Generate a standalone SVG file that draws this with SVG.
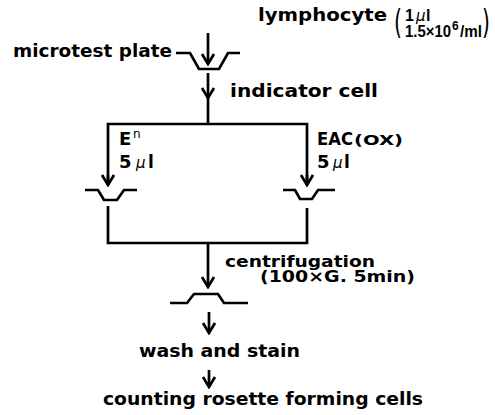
<svg xmlns="http://www.w3.org/2000/svg" width="495" height="415" viewBox="0 0 495 415">
<style>
.t{font-family:"DejaVu Sans","Liberation Sans",sans-serif;font-weight:bold;font-size:17px;fill:#000}
.s{font-family:"DejaVu Sans","Liberation Sans",sans-serif;font-weight:bold;font-size:14px;fill:#000}
.n{font-family:"Liberation Sans","DejaVu Sans",sans-serif;font-weight:bold;font-size:16px;fill:#000}
.mu{font-family:"DejaVu Sans","Liberation Sans",sans-serif;font-style:italic;font-weight:normal;font-size:15px;fill:#000}
.p{font-family:"DejaVu Sans","Liberation Sans",sans-serif;font-weight:normal;font-size:34px;fill:#000}
.ln{fill:none;stroke:#000;stroke-width:2.7;stroke-linejoin:miter}
</style>
<defs>
<marker id="ah" markerUnits="userSpaceOnUse" markerWidth="14" markerHeight="16" viewBox="-12 -8 14 16" refX="0" refY="0" orient="auto">
<path d="M-10,-6 L0,0 L-10,6" fill="none" stroke="#000" stroke-width="2.7"/>
</marker>
</defs>
<rect width="495" height="415" fill="#fff"/>

<g id="lymphocyte">
<text class="t" x="258" y="21" textLength="129" lengthAdjust="spacingAndGlyphs">lymphocyte</text>
<text class="p" transform="translate(394,34) scale(0.6,1)">(</text>
<text class="n" x="405" y="21">1</text>
<text class="mu" x="416" y="21">μ</text>
<text class="n" x="426" y="21">l</text>
<text class="n" x="405" y="37" textLength="46" lengthAdjust="spacingAndGlyphs">1.5×10</text>
<text class="n" x="452" y="30" style="font-size:12px">6</text>
<text class="n" x="460" y="37" textLength="22" lengthAdjust="spacingAndGlyphs">/ml</text>
<text class="p" transform="translate(482,34) scale(0.6,1)">)</text>
</g>

<g id="microtest-plate">
<text class="t" x="13" y="57" textLength="159" lengthAdjust="spacingAndGlyphs">microtest plate</text>
<polyline class="ln" points="176,53 190,53 199,69 219,69 228,53 240,53"/>
</g>

<g id="indicator-cell">
<text class="t" x="230" y="97" textLength="148" lengthAdjust="spacingAndGlyphs">indicator cell</text>
</g>

<g id="En">
<text class="t" x="119" y="145" style="font-size:18px">E</text>
<text class="s" x="133" y="138" style="font-weight:normal;font-size:12px">n</text>
<text class="t" x="119" y="168" style="font-size:18px">5</text>
<text class="mu" x="136" y="168">μ</text>
<text class="t" x="148" y="168">l</text>
<polyline class="ln" points="85,190 98,190 104,200 117,200 124,190 137,190"/>
</g>

<g id="EAC">
<text class="t" x="317" y="145" textLength="36" lengthAdjust="spacingAndGlyphs" style="font-size:18px">EAC</text>
<text class="s" x="354" y="145" textLength="49" lengthAdjust="spacingAndGlyphs">(OX)</text>
<text class="t" x="317" y="168" style="font-size:18px">5</text>
<text class="mu" x="333" y="168">μ</text>
<text class="t" x="344" y="168">l</text>
<polyline class="ln" points="283,190 295,190 300,199 312,199 318,190 335,190"/>
</g>

<g id="centrifugation">
<text class="t" x="225" y="267" textLength="150" lengthAdjust="spacingAndGlyphs" style="font-size:16px">centrifugation</text>
<text class="t" x="260" y="282" textLength="155" lengthAdjust="spacingAndGlyphs" style="font-size:16px">(100×G. 5min)</text>
<polyline class="ln" points="170,303 187,303 194,294 218,294 224,303 248,303"/>
</g>

<g id="wash">
<text class="t" x="139" y="357" textLength="161" lengthAdjust="spacingAndGlyphs">wash  and stain</text>
</g>

<g id="counting">
<text class="t" x="103" y="405" textLength="320" lengthAdjust="spacingAndGlyphs">counting rosette forming cells</text>
</g>

<g id="connectors" fill="none" stroke="#000" stroke-width="2.7">
<line x1="208" y1="33" x2="208" y2="64" marker-end="url(#ah)"/>
<line x1="208" y1="73" x2="208" y2="98" marker-end="url(#ah)"/>
<line x1="208" y1="97" x2="208" y2="124"/>
<polyline points="108,185 108,124 307,124 307,185" stroke-linejoin="miter"/>
<line x1="108" y1="175" x2="108" y2="185" marker-end="url(#ah)"/>
<line x1="307" y1="175" x2="307" y2="185" marker-end="url(#ah)"/>
<polyline points="108,206 108,243 307,243 307,208"/>
<line x1="208" y1="243" x2="208" y2="287" marker-end="url(#ah)"/>
<line x1="209" y1="312" x2="209" y2="333" marker-end="url(#ah)"/>
<line x1="209" y1="370" x2="209" y2="387" marker-end="url(#ah)"/>
</g>
</svg>
